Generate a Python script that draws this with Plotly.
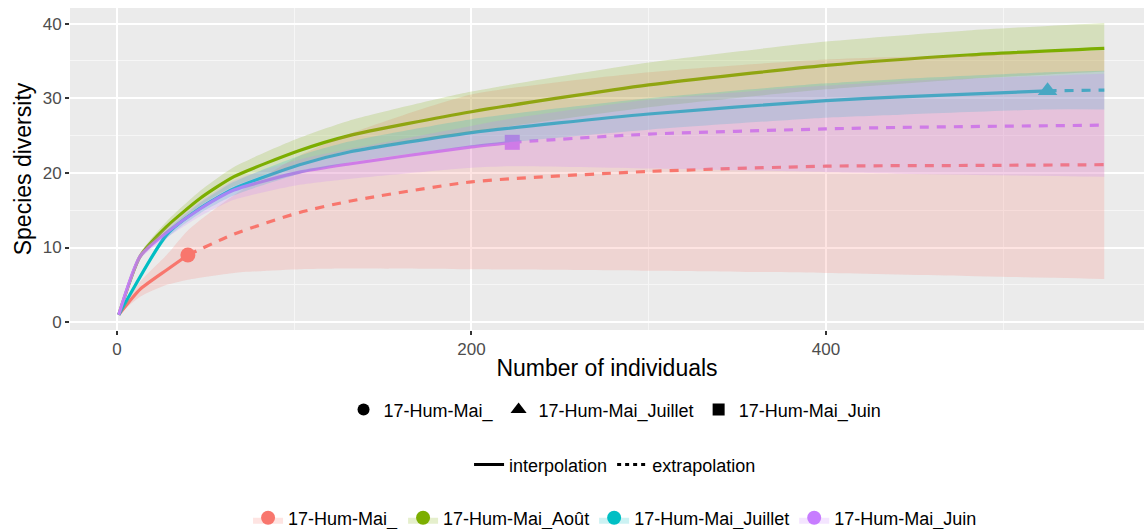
import plotly.graph_objects as go

# ---------------- data ----------------
sites = ["17-Hum-Mai_", "17-Hum-Mai_Août", "17-Hum-Mai_Juillet", "17-Hum-Mai_Juin"]
colors = ["#F8766D", "#7CAE00", "#00BFC4", "#C77CFF"]
fills = ["rgba(248,118,109,0.2)", "rgba(124,174,0,0.2)", "rgba(0,191,196,0.2)", "rgba(199,124,255,0.2)"]

# 17-Hum-Mai_ (red)
red_x = [1, 13, 28, 40, 66, 103, 131, 200, 300, 400, 480, 557]
red_est = [1, 4.4, 7.0, 9.0, 11.8, 14.7, 16.2, 18.8, 20.2, 20.9, 21.0, 21.1]
red_lo = [1, 3.4, 5.0, 5.7, 6.6, 7.1, 7.2, 7.1, 6.9, 6.6, 6.2, 5.8]
red_hi = [1, 5.4, 9.0, 12.3, 17.0, 22.3, 25.2, 30.5, 33.5, 35.2, 35.8, 36.4]
red_ref = 40

# 17-Hum-Mai_Août (green)
green_x = [1, 13, 28, 47, 66, 103, 131, 200, 300, 400, 480, 557]
green_est = [1, 8.8, 12.8, 16.6, 19.5, 23.0, 25.0, 28.2, 31.8, 34.4, 35.8, 36.7]
green_lo = [1, 8.4, 12.1, 15.6, 18.2, 21.3, 23.0, 25.5, 28.8, 31.2, 32.6, 33.6]
green_hi = [1, 9.2, 13.5, 17.6, 20.8, 24.7, 27.0, 30.9, 34.8, 37.6, 39.1, 40.1]
green_ref = 557

# 17-Hum-Mai_Juillet (teal)
teal_x = [1, 28, 47, 66, 103, 131, 200, 300, 400, 442, 525, 557]
teal_est = [1, 11.7, 15.3, 17.9, 21.1, 22.8, 25.4, 27.9, 29.7, 30.2, 31.0, 31.1]
teal_lo = [1, 11.2, 14.6, 17.0, 19.9, 21.4, 23.6, 25.8, 27.4, 27.8, 28.5, 28.5]
teal_hi = [1, 12.2, 16.0, 18.8, 22.3, 24.2, 27.2, 30.0, 32.0, 32.6, 33.5, 33.7]
teal_ref = 525

# 17-Hum-Mai_Juin (purple)
purple_x = [1, 13, 28, 47, 66, 103, 131, 200, 223, 300, 400, 442, 557]
purple_est = [1, 8.8, 12.0, 15.2, 17.7, 20.1, 21.2, 23.5, 24.1, 25.2, 25.9, 26.1, 26.4]
purple_lo = [1, 8.4, 11.3, 14.2, 16.4, 18.4, 19.2, 20.7, 20.9, 20.6, 20.1, 19.9, 19.5]
purple_hi = [1, 9.2, 12.7, 16.2, 19.0, 21.8, 23.2, 26.3, 27.3, 29.8, 31.7, 32.3, 33.3]
purple_ref = 223

series = [
    (red_x, red_est, red_lo, red_hi, red_ref, "circle"),
    (green_x, green_est, green_lo, green_hi, green_ref, None),
    (teal_x, teal_est, teal_lo, teal_hi, teal_ref, "triangle-up"),
    (purple_x, purple_est, purple_lo, purple_hi, purple_ref, "square"),
]

shape_names = ["17-Hum-Mai_", "17-Hum-Mai_Juillet", "17-Hum-Mai_Juin"]
shape_symbols = ["circle", "triangle-up", "square"]
method_names = ["interpolation", "extrapolation"]

FONT = "Liberation Sans, Arial, sans-serif"
SM = 0.6

fig = go.Figure()

# lines and reference markers (drawn below the ribbons, like ggiNEXT)
for (xs, est, lo, hi, ref, sym), col in zip(series, colors):
    xi = [x for x in xs if x <= ref]
    yi = [y for x, y in zip(xs, est) if x <= ref]
    xe = [x for x in xs if x >= ref]
    ye = [y for x, y in zip(xs, est) if x >= ref]
    fig.add_trace(go.Scatter(x=xi, y=yi, mode="lines", showlegend=False, hoverinfo="skip",
                             line=dict(color=col, width=3.2, shape="spline", smoothing=SM)))
    if len(xe) > 1:
        fig.add_trace(go.Scatter(x=xe, y=ye, mode="lines", showlegend=False, hoverinfo="skip",
                                 line=dict(color=col, width=3.2, dash="9px,8px", shape="spline", smoothing=SM)))
    if sym is not None:
        ry = [y for x, y in zip(xs, est) if x == ref]
        size = 17 if sym == "triangle-up" else 15
        fig.add_trace(go.Scatter(x=[ref], y=ry, mode="markers", showlegend=False, hoverinfo="skip",
                                 marker=dict(symbol=sym, size=size, color=col, line=dict(width=0))))

# ribbons
for (xs, est, lo, hi, ref, sym), fc in zip(series, fills):
    fig.add_trace(go.Scatter(x=xs, y=lo, mode="lines", showlegend=False, hoverinfo="skip",
                             line=dict(width=0, shape="spline", smoothing=SM)))
    fig.add_trace(go.Scatter(x=xs, y=hi, mode="lines", showlegend=False, hoverinfo="skip",
                             fill="tonexty", fillcolor=fc,
                             line=dict(width=0, shape="spline", smoothing=SM)))

# legend 1 : shapes
for name, sym in zip(shape_names, shape_symbols):
    fig.add_trace(go.Scatter(x=[None], y=[None], mode="markers", name=name, legend="legend",
                             marker=dict(symbol=sym, size=14 if sym == "triangle-up" else 12, color="black")))

# legend 2 : methods
for name, dash in zip(method_names, ["solid", "4px,4px"]):
    fig.add_trace(go.Scatter(x=[None], y=[None], mode="lines", name=name, legend="legend2",
                             line=dict(color="black", width=3, dash=dash)))

# legend 3 : colours
for name, col, fc in zip(sites, colors, fills):
    fig.add_trace(go.Scatter(x=[None], y=[None], mode="markers", name=name, legend="legend3",
                             fill="toself", fillcolor=fc,
                             marker=dict(symbol="circle", size=14, color=col)))

leg_common = dict(orientation="h", xanchor="center", x=0.5075, yanchor="middle",
                  font=dict(family=FONT, size=18, color="black"), traceorder="normal",
                  bgcolor="rgba(0,0,0,0)", itemwidth=30)

fig.update_layout(
    width=1144, height=529,
    margin=dict(l=70, r=0, t=8, b=199, autoexpand=False),
    paper_bgcolor="white",
    plot_bgcolor="#EBEBEB",
    font=dict(family=FONT, color="black"),
    legend=dict(y=-0.248, **leg_common),
    legend2=dict(y=-0.419, **leg_common),
    legend3=dict(y=-0.584, **leg_common),
    xaxis=dict(range=[-26.5, 579.4], tickmode="array", tickvals=[0, 200, 400],
               ticktext=["0", "200", "400"],
               showgrid=True, gridcolor="white", gridwidth=2, zeroline=False,
               ticks="outside", ticklen=4, tickwidth=1.5, tickcolor="#333333",
               tickfont=dict(family=FONT, size=17, color="#4D4D4D"),
               minor=dict(tickvals=[100, 300, 500], showgrid=True, gridcolor="#F6F6F6", gridwidth=1, ticks=""),
               title=dict(text="Number of individuals", font=dict(family=FONT, size=23, color="black"), standoff=1),
               showline=False),
    yaxis=dict(range=[-1.05, 42.1], tickmode="array", tickvals=[0, 10, 20, 30, 40],
               ticktext=["0", "10", "20", "30", "40"],
               showgrid=True, gridcolor="white", gridwidth=2, zeroline=False,
               ticks="outside", ticklen=4, tickwidth=1.5, tickcolor="#333333",
               tickfont=dict(family=FONT, size=17, color="#4D4D4D"),
               minor=dict(tickvals=[5, 15, 25, 35], showgrid=True, gridcolor="#F6F6F6", gridwidth=1, ticks=""),
               title=dict(text="Species diversity", font=dict(family=FONT, size=23, color="black"), standoff=4),
               showline=False),
)

fig.write_html("out.html", config={"displayModeBar": False},
               post_script="document.body.style.margin='0px';document.body.style.overflow='hidden';")
